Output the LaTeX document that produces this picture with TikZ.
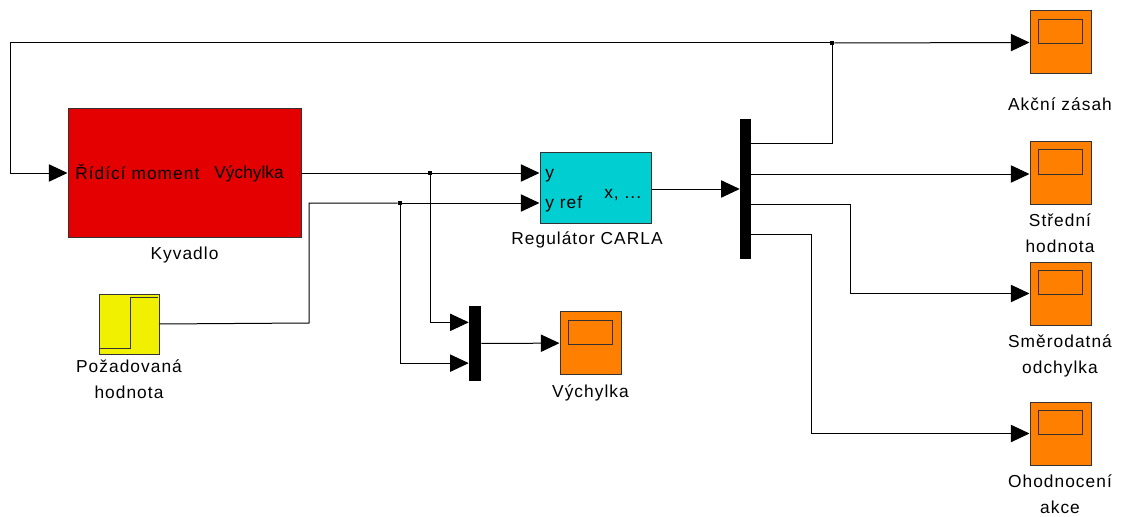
\documentclass[tikz,border=0pt]{standalone}
\usepackage{fontspec}
\setmainfont{Liberation Sans}[LetterSpace=6]
\newfontfamily\tightfont{Liberation Sans}
\usetikzlibrary{arrows.meta, positioning, calc}
\definecolor{kyvred}{RGB}{228,0,0}
\definecolor{carlacyan}{RGB}{0,206,209}
\definecolor{stepyel}{RGB}{240,240,0}
\definecolor{scopeor}{RGB}{255,128,0}

\begin{document}
\begin{tikzpicture}[
    x=0.75pt, y=-0.75pt,
    font=\fontsize{13}{19.5}\selectfont,
    blk/.style={draw=black!80, line width=0.75pt, inner sep=0pt},
    plant/.style={blk, fill=kyvred, minimum width=174.75pt, minimum height=96pt},
    ctrl/.style={blk, fill=carlacyan, minimum width=83.25pt, minimum height=52.5pt},
    src/.style={blk, fill=stepyel, minimum width=45pt, minimum height=45pt},
    scope/.style={blk, fill=scopeor, minimum width=45.75pt, minimum height=47.25pt},
    bar/.style={fill=black, inner sep=0pt},
    jn/.style={fill=black, inner sep=0pt, minimum size=3pt},
    lbl/.style={anchor=base, inner sep=0pt, align=center},
    port/.style={anchor=base west, inner sep=0pt},
    sig/.style={-{Triangle[length=14pt, width=13pt]}, black, line width=0.75pt},
    wire/.style={black, line width=0.75pt},
  ]
    \useasboundingbox (0,0) rectangle (1122,517);
    % ===== bloky (levá část) =====
    \node[plant] (kyv)  at (184.5, 173) {};
    \node[ctrl]  (carla) at (595.5, 188) {};
    \node[src]   (step) at (129, 324) {};
    \node[bar, minimum width=9pt, minimum height=56.25pt] (mux2) at (475, 343.5) {};
    \node[scope] (vych) at (590.5, 343) {};
    % ===== mux a scopy (pravá část) =====
    \node[bar, minimum width=8.25pt, minimum height=105pt] (mux1) at (745.5, 189) {};
    \node[scope] (akc)   at (1060.5, 42.5) {};
    \node[scope] (stred) at (1060.5, 173) {};
    \node[scope] (smer)  at (1060.5, 293.5) {};
    \node[scope] (ohod)  at (1060.5, 433.5) {};
    % okénka scopů
    \foreach \s in {vych, akc, stred, smer, ohod}
      \draw[black!80, line width=0.75pt] ([shift={(9,9)}]\s.north west) rectangle +(44,24);
    % skok uvnitř zdroje
    \draw[black!80, line width=0.75pt] (100,348) -- (130,348) -- (130,297) -- (158,297);

    % ===== texty =====
    \node[port] (kyvin) at (75,180) {Řídící moment};
    \node[lbl, anchor=base east] (kyvout) at (284,178) {\tightfont Výchylka};
    \node[port] (cy)    at (545,178) {y};
    \node[port] (cyref) at (545,208) {y ref};
    \node[port] (cx)    at (604,198) {x,\ ...};
    \node[lbl] (kyvlbl)   at (184.5,259) {Kyvadlo};
    \node[lbl] (carlalbl) at (587,244) {Regulátor CARLA};
    \node[lbl] (steplbl)  at (129,398) {Požadovaná\\hodnota};
    \node[lbl] (vychlbl)  at (590.5,397) {Výchylka};
    \node[lbl] (akclbl)   at (1060,111) {Akční zásah};
    \node[lbl] (stredlbl) at (1060,252) {Střední\\hodnota};
    \node[lbl] (smerlbl)  at (1060,373) {Směrodatná\\odchylka};
    \node[lbl] (ohodlbl)  at (1060,513) {Ohodnocení\\akce};

    % ===== uzly vedení =====
    \node[jn] (j1) at (430,173) {};
    \node[jn] (j2) at (400,203) {};
    \node[jn] (j3) at (832,43) {};
    \coordinate (fbk) at (10,43);
    \coordinate (m1o1) at (751,144);
    \coordinate (m1o2) at (751,174);
    \coordinate (m1o3) at (751,204);
    \coordinate (m1o4) at (751,234);

    % ===== signály =====
    \draw[sig] (kyv.east) -- (kyv.east -| carla.west);
    \draw[sig] (j1) |- ($(mux2.north west)!0.22!(mux2.south west)$);
    \draw[wire] (step.east) -- (309,323) |- (j2);
    \draw[sig] (j2) -- (j2 -| carla.west);
    \draw[sig] (j2) |- ($(mux2.north west)!0.76!(mux2.south west)$);
    \draw[sig] (mux2) -- (vych);
    \draw[sig] (carla.east |- mux1) -- (mux1.west);
    \draw[wire] (m1o1) -| (j3);
    \draw[sig] (j3) -- (akc.west);
    \draw[sig] (j3) -- (fbk) |- (kyv.west);
    \draw[sig] (m1o2) -- (m1o2 -| stred.west);
    \draw[sig] (m1o3) -| (850,293.5) -- (smer.west);
    \draw[sig] (m1o4) -| (811,433.5) -- (ohod.west);
  \end{tikzpicture}
\end{document}
